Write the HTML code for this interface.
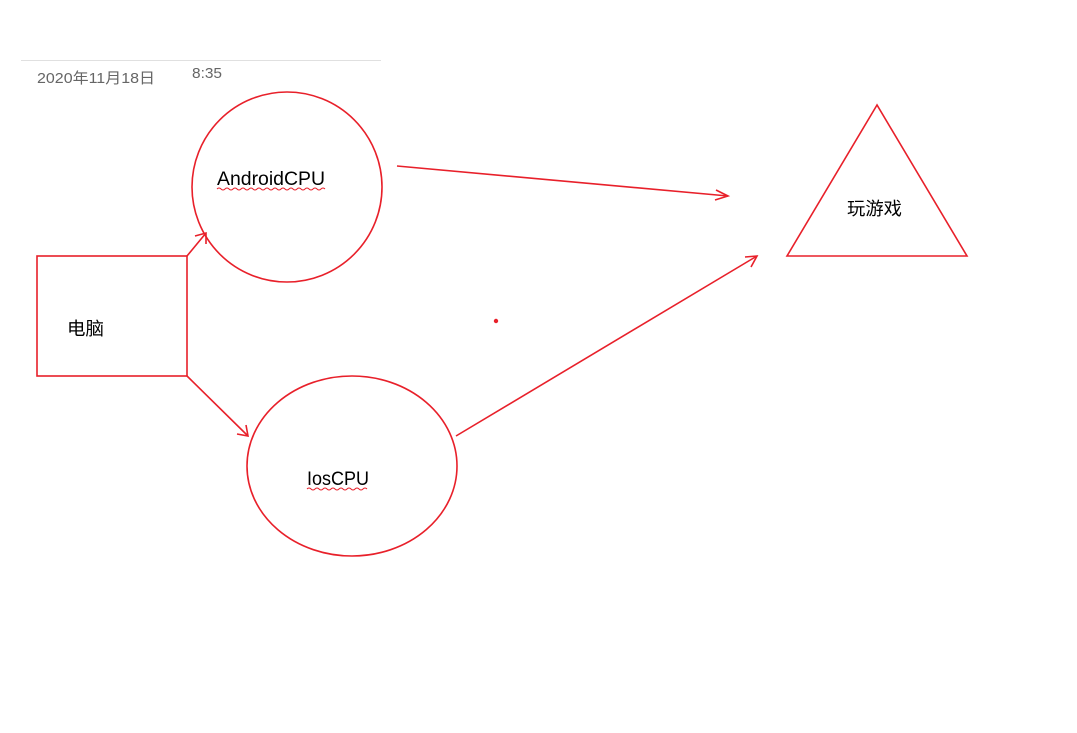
<!DOCTYPE html>
<html><head><meta charset="utf-8"><style>
html,body{margin:0;padding:0;background:#fff;width:1077px;height:733px;overflow:hidden}
svg{display:block}
text{font-family:"Liberation Sans","Noto Sans CJK SC",sans-serif}
</style></head><body>
<svg width="1077" height="733" xmlns="http://www.w3.org/2000/svg">
<line x1="21" y1="60.5" x2="381" y2="60.5" stroke="#e0e0e0" stroke-width="1"/>
<text x="37" y="83" font-size="15" fill="#666" textLength="118" lengthAdjust="spacingAndGlyphs">2020年11月18日</text>
<text x="192" y="78" font-size="15" fill="#666" textLength="30" lengthAdjust="spacingAndGlyphs">8:35</text>
<g stroke="#e8202a" stroke-width="1.6" fill="none">
<rect x="37" y="256" width="150" height="120"/>
<circle cx="287" cy="187" r="95"/>
<ellipse cx="352" cy="466" rx="105" ry="90"/>
<polygon points="877,105 787,256 967,256"/>
<line x1="187" y1="256" x2="206" y2="233"/>
<polyline points="195,236 206,233 206,244"/>
<line x1="187" y1="376" x2="248" y2="436"/>
<polyline points="237,434 248,436 246,425"/>
<line x1="397" y1="166" x2="728" y2="196"/>
<polyline points="716,190 728,196 715,200"/>
<line x1="456" y1="436" x2="757" y2="256"/>
<polyline points="745,257 757,256 751,267"/>
</g>
<circle cx="496" cy="321" r="2.2" fill="#e8202a"/>
<text x="67" y="335" font-size="18" fill="#000" textLength="37" lengthAdjust="spacingAndGlyphs">电脑</text>
<text x="217" y="185" font-size="19" fill="#000" textLength="108" lengthAdjust="spacingAndGlyphs">AndroidCPU</text>
<text x="307" y="485" font-size="19" fill="#000" textLength="62" lengthAdjust="spacingAndGlyphs">IosCPU</text>
<text x="847" y="215" font-size="18" fill="#000" textLength="55" lengthAdjust="spacingAndGlyphs">玩游戏</text>
<g stroke="#e8202a" stroke-width="1" fill="none">
<path d="M217 189 q2 -2 4 0 t4 0 t4 0 t4 0 t4 0 t4 0 t4 0 t4 0 t4 0 t4 0 t4 0 t4 0 t4 0 t4 0 t4 0 t4 0 t4 0 t4 0 t4 0 t4 0 t4 0 t4 0 t4 0 t4 0 t4 0 t4 0 t4 0"/>
<path d="M307 489 q2 -2 4 0 t4 0 t4 0 t4 0 t4 0 t4 0 t4 0 t4 0 t4 0 t4 0 t4 0 t4 0 t4 0 t4 0 t4 0"/>
</g>
</svg>
</body></html>
